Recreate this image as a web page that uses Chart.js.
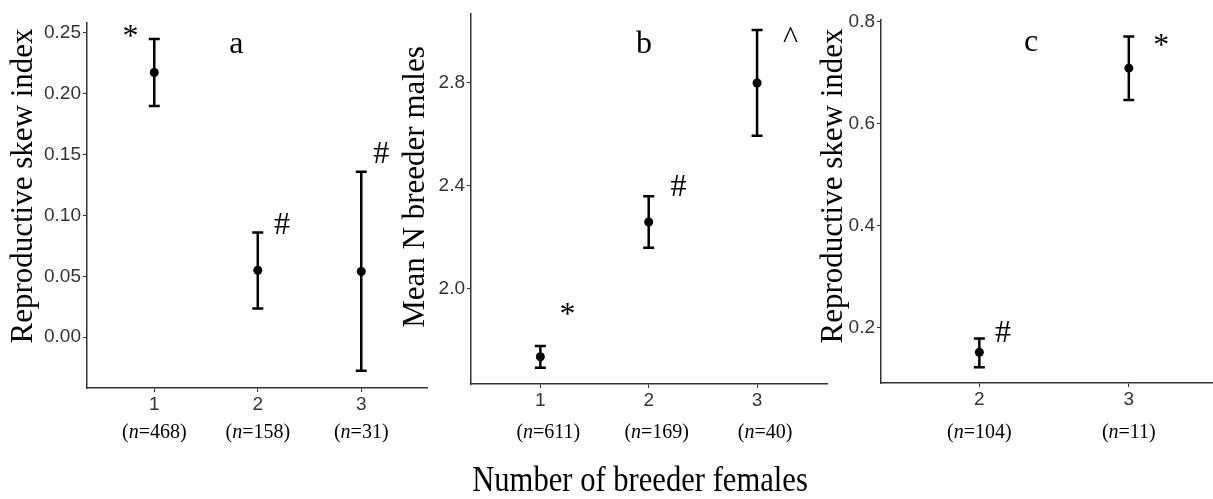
<!DOCTYPE html>
<html>
<head>
<meta charset="utf-8">
<script src="https://cdn.jsdelivr.net/npm/chart.js@4.4.0/dist/chart.umd.min.js"></script>
<style>
  body { margin: 0; background: #fff; }
  #wrap { position: relative; width: 1213px; height: 499px; overflow: hidden; background: #fff; }
  canvas { position: absolute; top: 0; }
  #xtitle {
    position: absolute; left: 340px; width: 600px; top: 461px;
    text-align: center; font: 36px/1 "Liberation Serif", "Times New Roman", serif;
    color: #000; transform: scaleX(0.85);
  }
</style>
</head>
<body>
<div id="wrap">
  <canvas id="panelA" width="432" height="499" style="left:0px"></canvas>
  <canvas id="panelB" width="436" height="499" style="left:396px"></canvas>
  <canvas id="panelC" width="410" height="499" style="left:810px"></canvas>
  <div id="xtitle">Number of breeder females</div>
</div>
<script>
const serif = '"Liberation Serif", "Times New Roman", serif';
const sans = '"Liberation Sans", Arial, sans-serif';

// panel a - reproductive skew
const catsA = [1, 2, 3];
const nA = [468, 158, 31];
const meanA = [0.2175, 0.055, 0.054];
const lowA = [0.19, 0.0235, -0.0276];
const highA = [0.245, 0.086, 0.136];
const yTicksA = [0, 0.05, 0.10, 0.15, 0.20, 0.25];
const yLabelsA = ['0.00', '0.05', '0.10', '0.15', '0.20', '0.25'];
const notesA = ['*', 'a', '#', '#'];
const noteXA = [0.77, 1.794, 2.234, 3.194];
const noteYA = [0.2393, 0.2334, 0.0844, 0.1432];

// panel b - mean number of breeder males
const catsB = [1, 2, 3];
const nB = [611, 169, 40];
const meanB = [1.733, 2.258, 2.8];
const lowB = [1.69, 2.158, 2.594];
const highB = [1.775, 2.359, 3.006];
const yTicksB = [2.0, 2.4, 2.8];
const yLabelsB = ['2.0', '2.4', '2.8'];
const notesB = ['b', '^', '#', '*'];
const noteXB = [1.957, 3.309, 2.274, 1.251];
const noteYB = [2.917, 2.937, 2.3586, 1.859];

// panel c - reproductive skew (2 and 3 females)
const catsC = [2, 3];
const nC = [104, 11];
const meanC = [0.151, 0.7085];
const lowC = [0.1215, 0.646];
const highC = [0.178, 0.7706];
const yTicksC = [0.2, 0.4, 0.6, 0.8];
const yLabelsC = ['0.2', '0.4', '0.6', '0.8'];
const notesC = ['c', '*', '#'];
const noteXC = [2.346, 3.217, 2.159];
const noteYC = [0.743, 0.7335, 0.172];

function drawN(ctx, cx, cy, n) {
  const parts = [['(', ''], ['n', 'italic '], ['=' + n + ')', '']];
  let total = 0;
  parts.forEach(p => { ctx.font = p[1] + '20px ' + serif; total += ctx.measureText(p[0]).width; });
  let x = cx - total / 2;
  ctx.textAlign = 'left';
  ctx.textBaseline = 'middle';
  parts.forEach(p => {
    ctx.font = p[1] + '20px ' + serif;
    ctx.fillText(p[0], x, cy);
    x += ctx.measureText(p[0]).width;
  });
}

function extras(p) {
  return {
    id: 'extras',
    beforeDatasetsDraw(chart) {
      const { ctx, scales: { x, y } } = chart;
      ctx.save();
      ctx.strokeStyle = '#000';
      ctx.lineWidth = 2.5;
      p.cats.forEach((c, i) => {
        const px = x.getPixelForValue(c);
        const top = y.getPixelForValue(p.high[i]);
        const bot = y.getPixelForValue(p.low[i]);
        ctx.beginPath();
        ctx.moveTo(px, top); ctx.lineTo(px, bot);
        ctx.moveTo(px - 5.5, top); ctx.lineTo(px + 5.5, top);
        ctx.moveTo(px - 5.5, bot); ctx.lineTo(px + 5.5, bot);
        ctx.stroke();
      });
      ctx.restore();
    },
    afterDraw(chart) {
      const { ctx, scales: { x, y } } = chart;
      ctx.save();
      ctx.fillStyle = '#000';
      // significance marks and panel letters
      ctx.textAlign = 'center';
      ctx.textBaseline = 'alphabetic';
      p.notes.forEach((t, i) => {
        ctx.font = '32px ' + serif;
        ctx.fillText(t, x.getPixelForValue(p.noteX[i]), y.getPixelForValue(p.noteY[i]));
      });
      // sample sizes under the ticks
      p.cats.forEach((c, i) => drawN(ctx, x.getPixelForValue(c) + p.nShift, 433, p.n[i]));
      // y axis title
      ctx.translate(p.titleX, p.titleY);
      ctx.rotate(-Math.PI / 2);
      ctx.font = '31px ' + serif;
      ctx.textAlign = 'center';
      ctx.textBaseline = 'middle';
      ctx.fillText(p.title, 0, 0);
      ctx.restore();
    }
  };
}

function panel(id, p) {
  new Chart(document.getElementById(id), {
    type: 'scatter',
    data: {
      datasets: [{
        data: p.cats.map((c, i) => ({ x: c, y: p.mean[i] })),
        pointRadius: 4.5,
        pointHoverRadius: 4.5,
        pointBackgroundColor: '#000',
        pointBorderWidth: 0
      }]
    },
    options: {
      responsive: false,
      animation: false,
      events: [],
      layout: { padding: { top: p.top, right: p.right, left: 0, bottom: 0 } },
      plugins: { legend: { display: false }, tooltip: { enabled: false } },
      scales: {
        x: {
          type: 'linear', min: p.xMin, max: p.xMax,
          afterBuildTicks: s => { s.ticks = p.cats.map(v => ({ value: v })); },
          afterFit: s => { s.height = p.xAxisH; },
          ticks: { font: { family: sans, size: 19 }, color: '#333', padding: 1, maxRotation: 0, callback: v => String(v) },
          grid: { drawOnChartArea: false, tickLength: 4, color: '#333', lineWidth: 1 },
          border: { color: '#333', width: 1.5 }
        },
        y: {
          min: p.yMin, max: p.yMax,
          afterBuildTicks: s => { s.ticks = p.yTicks.map(v => ({ value: v })); },
          afterFit: s => { s.width = p.yAxisW; },
          ticks: { font: { family: sans, size: 19 }, color: '#333', padding: 2, callback: (v, i) => p.yLabels[i] },
          grid: { drawOnChartArea: false, tickLength: 4, color: '#333', lineWidth: 1 },
          border: { color: '#333', width: 1.5 }
        }
      }
    },
    plugins: [extras(p)]
  });
}

panel('panelA', {
  cats: catsA, n: nA, mean: meanA, low: lowA, high: highA,
  yTicks: yTicksA, yLabels: yLabelsA, notes: notesA, noteX: noteXA, noteY: noteYA,
  xMin: 0.35, xMax: 3.64, yMin: -0.0418, yMax: 0.2582,
  top: 23, right: 3, xAxisH: 111, yAxisW: 87,
  title: 'Reproductive skew index', titleX: 23.5, titleY: 186, nShift: 0
});
panel('panelB', {
  cats: catsB, n: nB, mean: meanB, low: lowB, high: highB,
  yTicks: yTicksB, yLabels: yLabelsB, notes: notesB, noteX: noteXB, noteY: noteYB,
  xMin: 0.36, xMax: 3.65, yMin: 1.627, yMax: 3.071,
  top: 11, right: 3, xAxisH: 115, yAxisW: 75,
  title: 'Mean N breeder males', titleX: 20, titleY: 187, nShift: 8
});
panel('panelC', {
  cats: catsC, n: nC, mean: meanC, low: lowC, high: highC,
  yTicks: yTicksC, yLabels: yLabelsC, notes: notesC, noteX: noteXC, noteY: noteYC,
  xMin: 1.342, xMax: 3.58, yMin: 0.0907, yMax: 0.803,
  top: 20, right: 0, xAxisH: 116, yAxisW: 71,
  title: 'Reproductive skew index', titleX: 23.5, titleY: 186, nShift: 0
});
</script>
</body>
</html>
